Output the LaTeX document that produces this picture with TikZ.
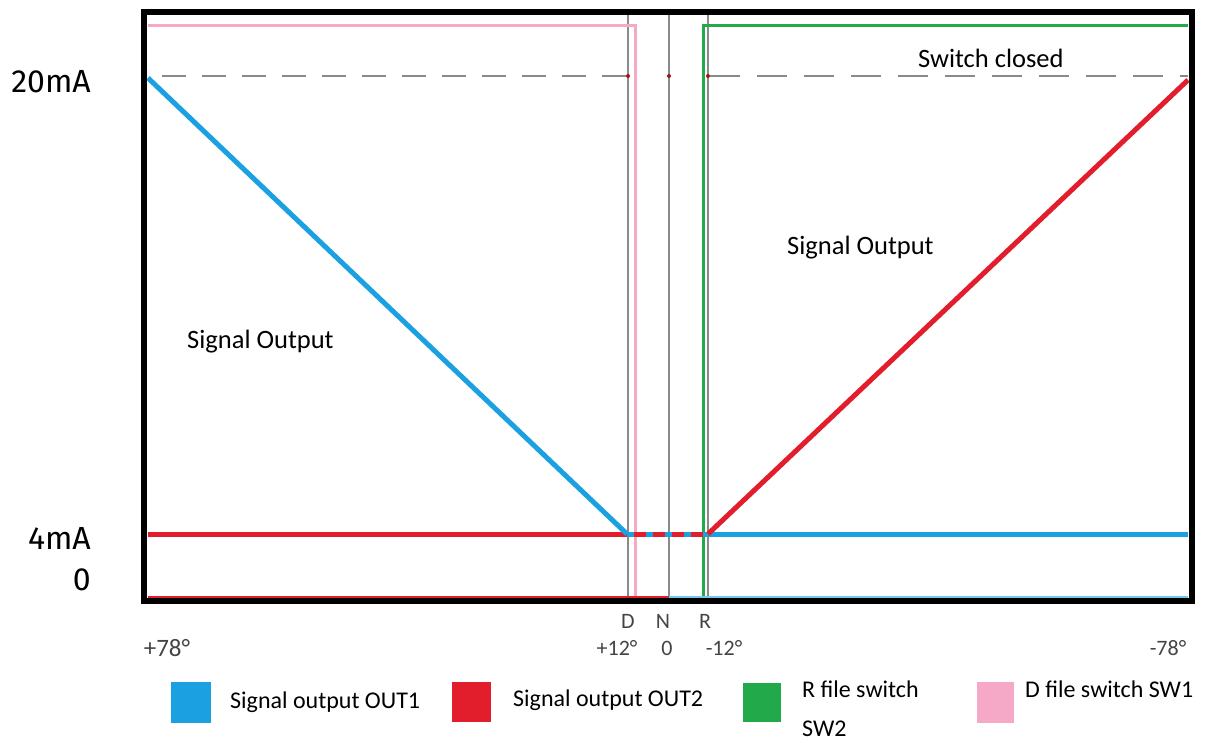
\documentclass[tikz,border=0pt]{standalone}
\usepackage{fontspec}
\setmainfont{Carlito}
\newfontfamily\axisfont{Fira Sans}
\definecolor{sigblue}{HTML}{1BA1E2}
\definecolor{sigred}{HTML}{E31E2C}
\definecolor{swgreen}{HTML}{22A94A}
\definecolor{swpink}{HTML}{F5A9C6}
\definecolor{guide}{HTML}{8A8A8A}
\definecolor{ticktext}{HTML}{444444}
\tikzset{
  frame/.style={line width=6pt, draw=black},
  guideline/.style={line width=2pt, draw=guide},
  dashguide/.style={line width=2.2pt, draw=guide, dash pattern=on 30pt off 17pt},
  outone/.style={line width=5pt, draw=sigblue},
  outtwo/.style={line width=5pt, draw=sigred},
  swline/.style={line width=3pt},
  axislbl/.style={font=\axisfont\fontsize{32}{36}\selectfont, inner sep=0pt},
  ticklbl/.style={font=\fontsize{22}{26}\selectfont, text=ticktext, inner sep=0pt},
  bodylbl/.style={font=\fontsize{26.5}{30}\selectfont, inner sep=0pt},
  leglbl/.style={font=\fontsize{24}{28}\selectfont, inner sep=0pt},
  legbox/.style={draw=none, inner sep=0pt},
}
\begin{document}
\begin{tikzpicture}[x=1pt,y=-1pt]
\useasboundingbox (0,0) rectangle (1213,742);
% key coordinates
\coordinate (tl) at (144,12);
\coordinate (br) at (1192,601);
\coordinate (b20) at (148,78);
\coordinate (bD) at (627,534);
\coordinate (rR) at (708,534);
\coordinate (r20) at (1188,80);
\coordinate (l4) at (148,534);
\coordinate (r4) at (1188,534);
\coordinate (dTop) at (628,15);
\coordinate (dBot) at (628,598);
\coordinate (nTop) at (669,15);
\coordinate (nBot) at (669,598);
\coordinate (rTop) at (708,15);
\coordinate (rBot) at (708,598);
\coordinate (pinkL) at (148,25);
\coordinate (pinkC) at (635,25);
\coordinate (pinkB) at (635,598);
\coordinate (greenB) at (703,598);
\coordinate (greenC) at (703,25);
\coordinate (greenR) at (1188,25);
\coordinate (dashLa) at (148,76);
\coordinate (dashLb) at (626,76);
\coordinate (dashRa) at (710,76);
\coordinate (dashRb) at (1188,76);
\coordinate (botL) at (148,597);
\coordinate (botM) at (669,597);
\coordinate (botR) at (1188,597);

% guide lines
\draw[guideline] (dTop) -- (dBot);
\draw[guideline] (nTop) -- (nBot);
\draw[guideline] (rTop) -- (rBot);
\draw[line width=2.2pt, draw=guide, dash pattern=on 24pt off 16pt] (dashLb) -- (dashLa);
\draw[dashguide] (dashRa) -- (dashRb);
\foreach \c in {628,669,708} \fill[sigred!70!black] (\c,76) circle (2pt);

% switch lines
\draw[swline, draw=swpink] (pinkL) -- (pinkC) -- (pinkB);
\draw[swline, draw=swgreen] (greenB) -- (greenC) -- (greenR);

% bottom traces
\draw[line width=1.5pt, sigred] (botL) -- (botM);
\draw[line width=1.5pt, sigblue!60] (botM) -- (botR);

% outputs
\draw[outtwo] (l4) -- (rR);
\draw[outone, dash pattern=on 7pt off 12pt] (bD) -- (rR);
\draw[outone] (b20) -- (bD);
\draw[outone] (rR) -- (r4);
\draw[outtwo] (rR) -- (r20);

% frame
\draw[frame] (tl) rectangle (br);

% text in plot
\node[bodylbl, fill=white, inner xsep=10pt, inner ysep=4pt, anchor=base west] (sc) at (908,67) {Switch closed};
\node[bodylbl, anchor=base west] (so1) at (187,348) {Signal Output};
\node[bodylbl, anchor=base west] (so2) at (787,254) {Signal Output};

% axis labels
\node[axislbl, anchor=base east] (y20) at (91,92) {20mA};
\node[axislbl, anchor=base east] (y4) at (91,549) {4mA};
\node[axislbl, anchor=base east] (y0) at (91,590) {0};

% tick labels
\node[ticklbl, anchor=base] (tD) at (628,628) {D};
\node[ticklbl, anchor=base] (tN) at (663,628) {N};
\node[ticklbl, anchor=base] (tR) at (705,628) {R};
\node[ticklbl, font=\fontsize{25}{28}\selectfont, anchor=base] (t78p) at (167,656) {+78°};
\node[ticklbl, anchor=base] (t12p) at (617,655) {+12°};
\node[ticklbl, anchor=base] (t0) at (667,655) {0};
\node[ticklbl, anchor=base] (t12m) at (724,655) {-12°};
\node[ticklbl, anchor=base] (t78m) at (1168,655) {-78°};

% legend
\node[legbox, fill=sigblue, minimum width=40pt, minimum height=41pt] (k1) at (191,702.5) {};
\node[leglbl, anchor=base west] (k1t) at (230,708) {Signal output OUT1};
\node[legbox, fill=sigred, minimum width=39pt, minimum height=40pt] (k2) at (471,702) {};
\node[leglbl, anchor=base west] (k2t) at (513,706) {Signal output OUT2};
\node[legbox, fill=swgreen, minimum width=38pt, minimum height=39pt] (k3) at (762,702.5) {};
\node[leglbl, anchor=base west] (k3t) at (802,697) {R file switch};
\node[leglbl, anchor=base west] (k3u) at (802,736) {SW2};
\node[legbox, fill=swpink, minimum width=37pt, minimum height=41pt] (k4) at (995.5,702.5) {};
\node[leglbl, anchor=base west] (k4t) at (1025,697) {D file switch SW1};
\end{tikzpicture}
\end{document}
